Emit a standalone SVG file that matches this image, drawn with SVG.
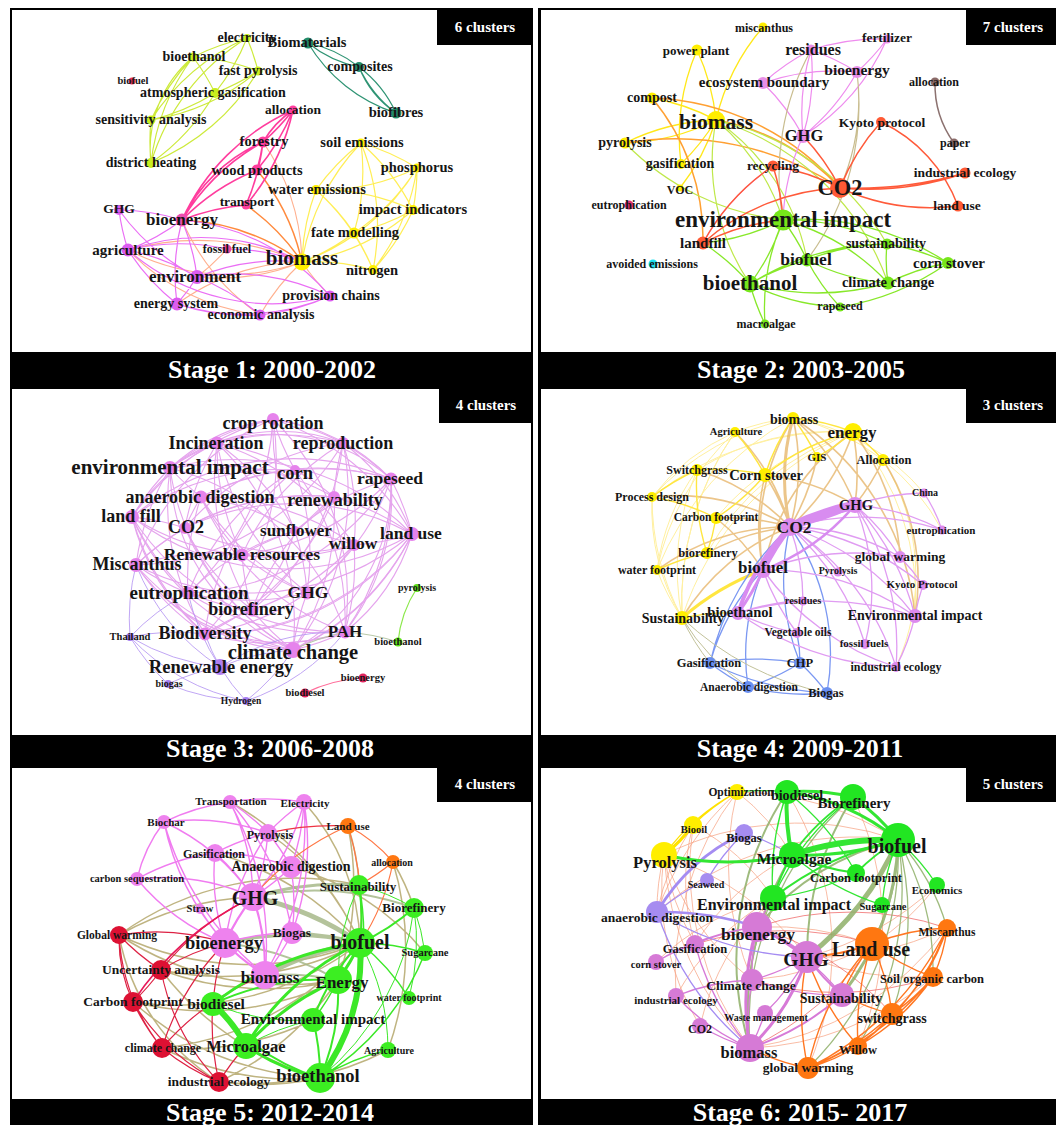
<svg xmlns="http://www.w3.org/2000/svg" width="1056" height="1125" viewBox="0 0 1056 1125">
<style>
text{font-family:"Liberation Serif","Times New Roman",serif;font-weight:bold;fill:#151515;text-anchor:middle}
.ttl{fill:#fff;font-size:26px}
.cl{fill:#fff;font-size:15px}
.e{fill:none}
.lime{fill:#c9ee1e}.teal{fill:#228b6a}.hpk{fill:#ff3d9e}.yel{fill:#fff000}.mag{fill:#dc5cf0}.red{fill:#e8305a}
.y2{fill:#ffee00}.pk2{fill:#e88ee8}.br{fill:#8a6a68}.or2{fill:#ff5a35}.gr2{fill:#76e61a}.cy{fill:#1fe0f0}.eu{fill:#e03070}
.pk3{fill:#e683ec}.pu3{fill:#a57cf0}.gr3{fill:#5ee01a}.rd3{fill:#e0245e}
.y4{fill:#ffee00}.pk4{fill:#dd8aee}.bl4{fill:#6a8ff0}
.pk5{fill:#ee82ee}.or5{fill:#ff7711}.gr5{fill:#3cee22}.rd5{fill:#dd1133}
.y6{fill:#ffee00}.gr6{fill:#22e622}.lv6{fill:#a68cf0}.pk6{fill:#d67ad6}.or6{fill:#ff7711}
</style>
<rect width="1056" height="1125" fill="#fff"/>
<g id="frames">
<rect x="10" y="8" width="523" height="378" fill="#000"/><rect x="12" y="10" width="519" height="342" fill="#fff"/>
<rect x="538" y="8" width="518" height="378" fill="#000"/><rect x="541" y="10" width="515" height="342" fill="#fff"/>
<rect x="10" y="386" width="523" height="380" fill="#000"/><rect x="12" y="389" width="519" height="346" fill="#fff"/>
<rect x="538" y="386" width="518" height="380" fill="#000"/><rect x="541" y="389" width="515" height="346" fill="#fff"/>
<rect x="10" y="765" width="523" height="360" fill="#000"/><rect x="12" y="768" width="519" height="331" fill="#fff"/>
<rect x="538" y="765" width="518" height="360" fill="#000"/><rect x="541" y="768" width="515" height="331" fill="#fff"/>
</g>

<g id="connectors">
<!-- Stage 1 -->
<g class="e" stroke="#cdea3c" stroke-width="1.2">
<path d="M193 57A220 220 0 0 1 247 38M247 38A220 220 0 0 1 258 71M247 38A220 220 0 0 1 215 93M151 120A220 220 0 0 1 247 38M151 163A220 220 0 0 1 247 38M193 57A220 220 0 0 1 258 71M193 57A220 220 0 0 1 215 93M151 120A220 220 0 0 1 193 57M151 163A220 220 0 0 1 193 57M258 71A220 220 0 0 1 215 93M258 71A220 220 0 0 1 151 120M258 71A220 220 0 0 1 151 163M215 93A220 220 0 0 1 151 120M215 93A220 220 0 0 1 151 163M151 163A220 220 0 0 1 151 120M151 163A120 120 0 0 1 193 57"/>
</g>
<g class="e" stroke="#2f9474" stroke-width="1.2">
<path d="M308 43A120 120 0 0 1 359 67M359 67A120 120 0 0 1 308 43M396 113A160 160 0 0 1 308 43M359 67A120 120 0 0 1 396 113M396 113A120 120 0 0 1 359 67M396 113A100 100 0 0 1 359 67"/>
</g>
<g class="e" stroke="#ffb08f" stroke-width="1.1">
<path d="M302 262A220 220 0 0 1 197 277M177 304A220 220 0 0 1 302 262M260 315A220 220 0 0 1 302 262M227 249A220 220 0 0 1 197 277M330 296A220 220 0 0 1 302 262M263 142A220 220 0 0 1 302 262M182 220A220 220 0 0 0 260 315M128 250A220 220 0 0 0 260 315M302 262A220 220 0 0 1 128 250M128 250A260 260 0 0 1 302 262"/>
</g>
<g class="e" stroke="#ff8a3d" stroke-width="1.5">
<path d="M182 220A220 220 0 0 1 302 262M246 205A220 220 0 0 1 302 262M257 170A220 220 0 0 1 302 262"/>
</g>
<g class="e" stroke="#ffee55" stroke-width="1.2">
<path d="M361 143A220 220 0 0 1 417 168M316 190A220 220 0 0 1 361 143M361 143A220 220 0 0 1 413 210M361 143A220 220 0 0 1 354 233M302 262A220 220 0 0 1 361 143M361 143A220 220 0 0 1 373 270M417 168A220 220 0 0 1 316 190M417 168A220 220 0 0 1 413 210M417 168A220 220 0 0 1 354 233M417 168A220 220 0 0 1 373 270M417 168A220 220 0 0 1 302 262M316 190A220 220 0 0 1 413 210M316 190A220 220 0 0 1 354 233M302 262A220 220 0 0 1 316 190M316 190A220 220 0 0 1 373 270M413 210A220 220 0 0 1 354 233M413 210A220 220 0 0 1 373 270M413 210A220 220 0 0 1 302 262M354 233A220 220 0 0 1 302 262M354 233A220 220 0 0 1 373 270M302 262A220 220 0 0 1 373 270"/>
</g>
<g class="e" stroke="#ea6ff5" stroke-width="1.2">
<path d="M119 210A220 220 0 0 1 182 220M128 250A220 220 0 0 1 119 210M119 210A220 220 0 0 0 197 277M182 220A220 220 0 0 1 128 250M182 220A220 220 0 0 1 197 277M177 304A220 220 0 0 1 182 220M128 250A220 220 0 0 1 197 277M128 250A220 220 0 0 0 177 304M128 250A220 220 0 0 1 227 249M197 277A220 220 0 0 1 177 304M197 277A220 220 0 0 1 260 315M177 304A220 220 0 0 0 260 315M197 277A220 220 0 0 1 330 296M182 220A220 220 0 0 1 330 296M260 315A220 220 0 0 0 330 296M128 250A220 220 0 0 1 302 262M197 277A220 220 0 0 1 302 262M227 249A220 220 0 0 1 302 262M177 304A220 220 0 0 0 330 296M128 250A220 220 0 0 0 330 296"/>
</g>
<g class="e" stroke="#ff3d9e" stroke-width="1.6">
<path d="M293 110A220 220 0 0 1 263 142M263 142A100 100 0 0 1 293 110M293 110A220 220 0 0 1 257 170M182 220A220 220 0 0 1 293 110M263 142A220 220 0 0 1 257 170M182 220A220 220 0 0 1 263 142M182 220A160 160 0 0 1 263 142M182 220A220 220 0 0 1 257 170M182 220A220 220 0 0 1 246 205M263 142A220 220 0 0 1 246 205M293 110A220 220 0 0 1 246 205"/>
</g>

<!-- Stage 2 -->
<g class="e" stroke="#ffe81a" stroke-width="1.3">
<path d="M716 120A220 220 0 0 1 763 27M697 50A220 220 0 0 1 716 120M681 164A220 220 0 0 1 697 50M652 98A220 220 0 0 1 716 120M625 143A220 220 0 0 1 716 120M716 120A220 220 0 0 1 625 143M716 120A220 220 0 0 1 681 164M680 188A220 220 0 0 0 716 120"/>
</g>
<g class="e" stroke="#ffa033" stroke-width="1.5">
<path d="M652 98A260 260 0 0 1 840 188M652 98A220 220 0 0 1 703 243M625 143A300 300 0 0 1 840 188M716 120A220 220 0 0 1 840 188"/>
</g>
<g class="e" stroke="#bfe84a" stroke-width="1.2">
<path d="M716 120A220 220 0 0 1 783 220M716 120A220 220 0 0 0 750 284M716 120A220 220 0 0 1 807 260M625 143A260 260 0 0 0 783 220M716 120A260 260 0 0 1 888 283M716 120A260 260 0 0 1 887 244"/>
</g>
<g class="e" stroke="#ee8cee" stroke-width="1.2">
<path d="M811 50A220 220 0 0 1 803 136M811 50A220 220 0 0 1 857 72M811 50A220 220 0 0 1 887 39M887 39A220 220 0 0 1 857 72M887 39A220 220 0 0 1 803 136M763 83A220 220 0 0 1 803 136M763 83A220 220 0 0 1 857 72M857 72A220 220 0 0 1 803 136M763 83A220 220 0 0 1 811 50M803 136A220 220 0 0 1 811 50M803 136A220 220 0 0 0 783 220M703 243A220 220 0 0 1 773 166"/>
</g>
<g class="e" stroke="#c9bd8f" stroke-width="1.2">
<path d="M783 220A260 260 0 0 1 811 50M857 72A220 220 0 0 1 840 188M857 72A260 260 0 0 1 807 260"/>
</g>
<g class="e" stroke="#ff5a3a" stroke-width="1.5">
<path d="M840 188A220 220 0 0 1 881 122M840 188A300 300 0 0 0 965 173M840 188A400 400 0 0 0 965 173M840 188A220 220 0 0 0 958 206M881 122A150 150 0 0 1 958 206M773 166A220 220 0 0 1 840 188M703 243A220 220 0 0 1 840 188M773 166A220 220 0 0 0 703 243M773 166A220 220 0 0 1 783 220M703 243A220 220 0 0 1 783 220M803 136A220 220 0 0 1 840 188"/>
</g>
<g class="e" stroke="#8c7270" stroke-width="1.5"><path d="M935 82A100 100 0 0 0 954 143"/></g>
<g class="e" stroke="#88e82a" stroke-width="1.3">
<path d="M783 220A220 220 0 0 1 750 284M783 220A220 220 0 0 1 807 260M783 220A220 220 0 0 1 887 244M783 220A220 220 0 0 1 888 283M783 220A260 260 0 0 1 948 263M750 284A220 220 0 0 1 807 260M750 284A260 260 0 0 0 888 283M750 284A260 260 0 0 1 887 244M750 284A220 220 0 0 0 840 307M750 284A220 220 0 0 0 765 324M807 260A220 220 0 0 0 888 283M807 260A220 220 0 0 1 887 244M888 283A220 220 0 0 1 948 263M887 244A220 220 0 0 1 948 263M888 283A150 150 0 0 1 887 244M840 307A260 260 0 0 0 948 263M807 260A220 220 0 0 0 840 307M703 243A220 220 0 0 1 750 284M703 243A220 220 0 0 0 783 220M783 220A220 220 0 0 0 765 324"/>
</g>

<!-- Stage 3 -->
<g class="e" stroke="#e39bec" stroke-width="1.1" opacity="0.9">
<path d="M273 419A250 250 0 0 1 343 443M343 443A250 250 0 0 1 391 479M391 479A250 250 0 0 1 412 534M412 534A250 250 0 0 1 354 545M354 545A250 250 0 0 1 345 632M345 632A250 250 0 0 1 293 650M293 650A250 250 0 0 1 307 593M307 593A250 250 0 0 1 205 634M205 634A250 250 0 0 1 252 610M252 610A250 250 0 0 1 188 593M188 593A250 250 0 0 1 136 565M136 565A250 250 0 0 1 242 555M242 555A250 250 0 0 1 132 517M132 517A250 250 0 0 1 185 528M185 528A250 250 0 0 1 201 497M201 497A250 250 0 0 1 170 468M170 468A250 250 0 0 1 217 443M217 443A250 250 0 0 1 295 470M295 470A250 250 0 0 1 334 497M334 497A250 250 0 0 1 295 531M295 531A250 250 0 0 1 273 419"/>
<path d="M273 419A250 250 0 0 1 412 534M343 443A250 250 0 0 1 354 545M391 479A250 250 0 0 1 345 632M412 534A250 250 0 0 1 293 650M354 545A250 250 0 0 1 307 593M345 632A250 250 0 0 1 205 634M293 650A250 250 0 0 1 252 610M307 593A250 250 0 0 1 188 593M205 634A250 250 0 0 1 136 565M252 610A250 250 0 0 1 242 555M188 593A250 250 0 0 1 132 517M136 565A250 250 0 0 1 185 528M242 555A250 250 0 0 1 201 497M132 517A250 250 0 0 1 170 468M185 528A250 250 0 0 1 217 443M201 497A250 250 0 0 1 295 470M170 468A250 250 0 0 1 334 497M217 443A250 250 0 0 1 295 531M295 470A250 250 0 0 1 273 419M334 497A250 250 0 0 1 343 443M295 531A250 250 0 0 1 391 479"/>
<path d="M273 419A250 250 0 0 1 345 632M343 443A250 250 0 0 1 293 650M391 479A250 250 0 0 1 307 593M412 534A250 250 0 0 1 205 634M354 545A250 250 0 0 1 252 610M345 632A250 250 0 0 1 188 593M293 650A250 250 0 0 1 136 565M307 593A250 250 0 0 1 242 555M205 634A250 250 0 0 1 132 517M252 610A250 250 0 0 1 185 528M188 593A250 250 0 0 1 201 497M136 565A250 250 0 0 1 170 468M242 555A250 250 0 0 1 217 443M132 517A250 250 0 0 1 295 470M185 528A250 250 0 0 1 334 497M201 497A250 250 0 0 1 295 531M170 468A250 250 0 0 1 273 419M217 443A250 250 0 0 1 343 443M295 470A250 250 0 0 1 391 479M334 497A250 250 0 0 1 412 534M295 531A250 250 0 0 1 354 545"/>
<path d="M273 419A250 250 0 0 1 205 634M343 443A250 250 0 0 1 252 610M391 479A250 250 0 0 1 188 593M412 534A250 250 0 0 1 136 565M354 545A250 250 0 0 1 242 555M345 632A250 250 0 0 1 132 517M293 650A250 250 0 0 1 185 528M307 593A250 250 0 0 1 201 497M205 634A250 250 0 0 1 170 468M252 610A250 250 0 0 1 217 443M188 593A250 250 0 0 1 295 470M136 565A250 250 0 0 1 334 497M242 555A250 250 0 0 1 295 531M132 517A250 250 0 0 1 273 419M185 528A250 250 0 0 1 343 443M201 497A250 250 0 0 1 391 479M170 468A250 250 0 0 1 412 534M217 443A250 250 0 0 1 354 545M295 470A250 250 0 0 1 345 632M334 497A250 250 0 0 1 293 650M295 531A250 250 0 0 1 307 593"/>
<path d="M273 419A250 250 0 0 1 188 593M343 443A250 250 0 0 1 136 565M391 479A250 250 0 0 1 242 555M412 534A250 250 0 0 1 132 517M354 545A250 250 0 0 1 185 528M345 632A250 250 0 0 1 201 497M293 650A250 250 0 0 1 170 468M307 593A250 250 0 0 1 217 443M205 634A250 250 0 0 1 295 470M252 610A250 250 0 0 1 334 497M188 593A250 250 0 0 1 295 531M136 565A250 250 0 0 1 273 419M242 555A250 250 0 0 1 343 443M132 517A250 250 0 0 1 391 479M185 528A250 250 0 0 1 412 534M201 497A250 250 0 0 1 354 545M170 468A250 250 0 0 1 345 632M217 443A250 250 0 0 1 293 650M295 470A250 250 0 0 1 307 593M334 497A250 250 0 0 1 205 634M295 531A250 250 0 0 1 252 610"/>
<path d="M170 468A200 200 0 0 0 293 650M136 565A200 200 0 0 0 293 650M412 534A200 200 0 0 1 345 632M391 479A220 220 0 0 1 345 632M412 534A240 240 0 0 1 293 650M273 419A200 200 0 0 1 391 479M170 468A200 200 0 0 1 273 419M132 517A200 200 0 0 1 217 443M343 443A200 200 0 0 1 412 534M132 517A230 230 0 0 0 293 650M412 534A260 260 0 0 1 205 634M136 565A180 180 0 0 0 345 632M170 468A180 180 0 0 1 343 443M217 443A180 180 0 0 1 391 479M132 517A220 220 0 0 0 205 634M391 479A190 190 0 0 1 293 650"/>
</g>
<g class="e" stroke="#b596f2" stroke-width="1" opacity="0.85">
<path d="M130 637A220 220 0 0 0 220 667M130 637A220 220 0 0 1 205 634M130 637A220 220 0 0 0 246 701M130 637A220 220 0 0 1 136 565M168 684A220 220 0 0 1 220 667M168 684A220 220 0 0 0 246 701M246 701A220 220 0 0 1 220 667M246 701A220 220 0 0 0 293 650M220 667A220 220 0 0 1 293 650M220 667A220 220 0 0 1 205 634M220 667A220 220 0 0 1 345 632M130 637A220 220 0 0 1 188 593M220 667A220 220 0 0 1 188 593M246 701A220 220 0 0 0 345 632M220 667A220 220 0 0 1 136 565M168 684A220 220 0 0 1 130 637"/>
</g>
<g class="e" stroke="#8be84a" stroke-width="1.2"><path d="M398 642A120 120 0 0 1 417 588"/></g>
<g class="e" stroke="#b9c9a9" stroke-width="1.2"><path d="M345 632A220 220 0 0 1 398 642M293 650A220 220 0 0 1 345 632"/></g>
<g class="e" stroke="#ff6d9a" stroke-width="1.2"><path d="M305 693A150 150 0 0 1 363 678"/></g>

<!-- Stage 4 -->
<g class="e" stroke="#fff0a0" stroke-width="1">
<path d="M652 497A220 220 0 0 1 735 432M682 618A220 220 0 0 1 652 497M657 570A220 220 0 0 1 697 470M682 618A220 220 0 0 1 657 570M793 418A220 220 0 0 1 883 460M735 432A220 220 0 0 1 793 418M652 497A260 260 0 0 1 793 418M657 570A260 260 0 0 1 735 432M682 618A260 260 0 0 1 697 470M682 618A300 300 0 0 1 735 432M716 518A260 260 0 0 1 853 432M707 553A260 260 0 0 1 853 432M652 497A300 300 0 0 1 853 432M697 470A260 260 0 0 1 853 432M657 570A300 300 0 0 1 793 418M682 618A300 300 0 0 1 853 432M883 460A220 220 0 0 1 896 667M853 432A250 250 0 0 1 915 616M883 460A220 220 0 0 1 942 530M793 418A220 220 0 0 1 924 493M652 497A260 260 0 0 0 682 618M735 432A300 300 0 0 0 682 618"/>
</g>
<g class="e" stroke="#e5b263" stroke-width="1.6" opacity="0.75">
<path d="M793 418A220 220 0 0 0 790 527" stroke-width="3"/>
<path d="M790 527A220 220 0 0 0 793 418M765 475A220 220 0 0 1 790 527M853 432A220 220 0 0 1 790 527M853 432A220 220 0 0 1 855 505M883 460A220 220 0 0 1 855 505M793 418A220 220 0 0 1 855 505M765 475A220 220 0 0 0 763 570M697 470A220 220 0 0 1 790 527M716 518A220 220 0 0 1 790 527M707 553A220 220 0 0 1 790 527M657 570A220 220 0 0 1 790 527M652 497A220 220 0 0 1 790 527M735 432A220 220 0 0 1 790 527M817 457A220 220 0 0 1 790 527M793 418A220 220 0 0 0 763 570M853 432A220 220 0 0 0 763 570M883 460A220 220 0 0 1 915 616M853 432A220 220 0 0 1 900 557M765 475A220 220 0 0 1 855 505M793 418A260 260 0 0 1 915 616M682 618A220 220 0 0 1 790 527M716 518A220 220 0 0 1 763 570"/>
</g>
<g class="e" stroke="#ffe640" stroke-width="1.4">
<path d="M682 618A260 260 0 0 1 763 570" stroke-width="3"/>
<path d="M682 618A220 220 0 0 1 738 613M793 418A220 220 0 0 0 765 475M793 418A220 220 0 0 1 853 432M853 432A220 220 0 0 1 817 457M853 432A220 220 0 0 1 883 460M697 470A220 220 0 0 1 765 475M652 497A220 220 0 0 1 697 470M652 497A220 220 0 0 1 716 518M716 518A220 220 0 0 1 707 553M657 570A220 220 0 0 1 707 553M697 470A220 220 0 0 0 707 553M735 432A220 220 0 0 1 765 475M793 418A220 220 0 0 1 817 457M765 475A220 220 0 0 1 716 518M765 475A220 220 0 0 1 853 432"/>
</g>
<g class="e" stroke="#7b98f2" stroke-width="1.3">
<path d="M710 663A260 260 0 0 1 800 663M710 663A220 220 0 0 0 748 687M748 687A220 220 0 0 0 827 693M800 663A220 220 0 0 1 827 693M790 527A220 220 0 0 1 827 693M790 527A260 260 0 0 0 710 663M763 570A220 220 0 0 0 710 663M800 663A220 220 0 0 1 790 527M800 663A220 220 0 0 1 748 687M710 663A300 300 0 0 0 827 693M748 687A220 220 0 0 1 763 570M797 633A150 150 0 0 1 800 663"/>
</g>
<g class="e" stroke="#c2c29a" stroke-width="1"><path d="M682 618A220 220 0 0 0 710 663M682 618A220 220 0 0 0 748 687M682 618A300 300 0 0 0 827 693"/></g>
<g class="e" stroke="#e09cf2" stroke-width="1.3">
<path d="M790 527A220 220 0 0 1 900 557M855 505A220 220 0 0 1 900 557M790 527A260 260 0 0 1 915 616M763 570A260 260 0 0 1 915 616M855 505A220 220 0 0 1 942 530M855 505A220 220 0 0 1 924 493M790 527A260 260 0 0 1 923 585M790 527A260 260 0 0 1 896 667M763 570A260 260 0 0 0 896 667M855 505A220 220 0 0 1 865 644M790 527A220 220 0 0 1 803 601M738 613A220 220 0 0 1 803 601M790 527A220 220 0 0 1 838 572M900 557A220 220 0 0 1 923 585M915 616A220 220 0 0 1 896 667M763 570A260 260 0 0 1 900 557M855 505A260 260 0 0 1 915 616M790 527A260 260 0 0 1 942 530M738 613A300 300 0 0 1 915 616M924 493A150 150 0 0 1 942 530M915 616A220 220 0 0 1 923 585M790 527A260 260 0 0 1 865 644M738 613A220 220 0 0 0 797 633M763 570A220 220 0 0 0 797 633M803 601A220 220 0 0 1 797 633M738 613A300 300 0 0 0 896 667M855 505A260 260 0 0 1 896 667"/>
</g>
<g class="e" stroke="#d88cf0">
<path d="M790 527A300 300 0 0 1 855 505" stroke-width="9"/>
<path d="M855 505A300 300 0 0 1 790 527" stroke-width="4"/>
<path d="M790 527A200 200 0 0 0 763 570" stroke-width="6"/>
<path d="M790 527A220 220 0 0 0 738 613" stroke-width="4"/>
<path d="M763 570A220 220 0 0 1 738 613" stroke-width="3"/>
<path d="M855 505A220 220 0 0 1 763 570" stroke-width="2.5"/>
</g>

<!-- Stage 5 -->
<g class="e" stroke="#9c8c3e" stroke-width="1.5" opacity="0.65">
<path d="M119 935A300 300 0 0 0 360 943M161 970A300 300 0 0 0 360 943M133 1002A300 300 0 0 0 360 943M162 1048A300 300 0 0 0 360 943M219 1082A300 300 0 0 0 360 943M161 970A300 300 0 0 0 338 980M162 1048A300 300 0 0 0 313 1020M219 1082A300 300 0 0 0 320 1078M119 935A300 300 0 0 1 359 885M133 1002A300 300 0 0 0 338 980M119 935A300 300 0 0 1 253 897M161 970A300 300 0 0 0 320 1078M162 1048A300 300 0 0 0 320 1078M133 1002A300 300 0 0 0 320 1078M119 935A300 300 0 0 0 338 980M219 1082A300 300 0 0 0 338 980M219 1082A300 300 0 0 0 388 1050M119 935A220 220 0 0 0 219 1082M230 802A300 300 0 0 1 360 943M304 802A220 220 0 0 1 360 943M393 862A220 220 0 0 1 414 908M348 826A300 300 0 0 1 338 980M291 867A260 260 0 0 1 425 953M268 833A260 260 0 0 1 360 943M215 853A300 300 0 0 1 360 943M393 862A300 300 0 0 1 388 1050M348 826A220 220 0 0 1 359 885"/>
</g>
<g class="e" stroke="#a7b98a" opacity="0.85">
<path d="M265 975A300 300 0 0 1 360 943" stroke-width="5"/>
<path d="M253 897A300 300 0 0 1 360 943" stroke-width="5"/>
<path d="M225 943A300 300 0 0 1 360 943M253 897A300 300 0 0 1 359 885M292 933A300 300 0 0 1 360 943" stroke-width="3"/>
<path d="M253 897A300 300 0 0 1 414 908M225 943A300 300 0 0 1 338 980M265 975A300 300 0 0 1 338 980" stroke-width="2"/>
</g>
<g class="e" stroke="#f07cf0" stroke-width="1.4">
<path d="M253 897A220 220 0 0 0 225 943M253 897A220 220 0 0 1 265 975M225 943A220 220 0 0 0 265 975" stroke-width="2.2"/>
<path d="M268 833A220 220 0 0 1 253 897M215 853A220 220 0 0 1 253 897M291 867A220 220 0 0 1 253 897M230 802A220 220 0 0 1 253 897M304 802A220 220 0 0 1 253 897M164 822A220 220 0 0 1 268 833M164 822A150 150 0 0 0 137 879M164 822A220 220 0 0 1 253 897M230 802A220 220 0 0 1 304 802M215 853A220 220 0 0 1 268 833M137 879A220 220 0 0 1 253 897M137 879A220 220 0 0 0 225 943M200 909A220 220 0 0 0 225 943M225 943A220 220 0 0 1 292 933M292 933A220 220 0 0 1 265 975M291 867A220 220 0 0 1 292 933M304 802A220 220 0 0 1 291 867M230 802A220 220 0 0 1 268 833M304 802A220 220 0 0 0 268 833M164 822A220 220 0 0 1 230 802M215 853A220 220 0 0 1 291 867M268 833A220 220 0 0 1 291 867M215 853A220 220 0 0 0 225 943M230 802A260 260 0 0 1 292 933M304 802A260 260 0 0 1 292 933M164 822A260 260 0 0 0 225 943M137 879A220 220 0 0 1 215 853M268 833A260 260 0 0 0 225 943M230 802A300 300 0 0 1 265 975M164 822A300 300 0 0 0 265 975M304 802A300 300 0 0 1 265 975"/>
</g>
<g class="e" stroke="#dd2244" stroke-width="1.2">
<path d="M119 935A220 220 0 0 0 161 970M119 935A150 150 0 0 0 133 1002M119 935A200 200 0 0 0 162 1048M161 970A220 220 0 0 1 133 1002M133 1002A220 220 0 0 0 162 1048M162 1048A220 220 0 0 0 219 1082M133 1002A220 220 0 0 0 219 1082M161 970A220 220 0 0 0 219 1082M119 935A220 220 0 0 1 225 943M161 970A260 260 0 0 1 253 897M162 1048A260 260 0 0 1 265 975M219 1082A220 220 0 0 1 246 1046M161 970A220 220 0 0 1 225 943M162 1048A260 260 0 0 1 225 943M219 1082A260 260 0 0 1 225 943"/>
<path d="M133 1002A300 300 0 0 1 253 897" stroke="#e8185a" stroke-width="1.6"/>
</g>
<g class="e" stroke="#ff7744" stroke-width="1.2">
<path d="M348 826A150 150 0 0 1 393 862M348 826A300 300 0 0 1 360 943M393 862A220 220 0 0 1 359 885M348 826A260 260 0 0 0 253 897M393 862A220 220 0 0 1 360 943"/>
<path d="M268 833A300 300 0 0 1 348 826" stroke="#ee3344"/>
</g>
<g class="e" stroke="#3ce828">
<path d="M360 943A200 200 0 0 1 320 1078M213 1004A150 150 0 0 1 246 1046" stroke-width="6"/>
<path d="M360 943A220 220 0 0 1 338 980M360 943A260 260 0 0 0 246 1046M360 943A300 300 0 0 0 213 1004M246 1046A220 220 0 0 0 320 1078M246 1046A260 260 0 0 1 338 980" stroke-width="3"/>
<path d="M338 980A220 220 0 0 1 320 1078M313 1020A220 220 0 0 1 320 1078M313 1020A220 220 0 0 1 360 943M359 885A220 220 0 0 1 360 943M414 908A220 220 0 0 1 360 943M213 1004A260 260 0 0 1 338 980M213 1004A220 220 0 0 0 320 1078" stroke-width="2"/>
<path d="M360 943A220 220 0 0 1 425 953M360 943A220 220 0 0 1 409 998M320 1078A220 220 0 0 1 388 1050M320 1078A260 260 0 0 0 425 953M338 980A220 220 0 0 1 313 1020M359 885A260 260 0 0 1 320 1078" stroke-width="1.5"/>
<path d="M360 943A220 220 0 0 1 388 1050M359 885A220 220 0 0 1 414 908M414 908A220 220 0 0 1 425 953M213 1004A220 220 0 0 0 313 1020M246 1046A220 220 0 0 1 313 1020M359 885A220 220 0 0 0 338 980M414 908A260 260 0 0 1 320 1078M414 908A220 220 0 0 1 409 998" stroke-width="1"/>
</g>

<!-- Stage 6 -->
<g class="e" stroke="#f7a07f" stroke-width="1" opacity="0.7">
<path d="M664 855A300 300 0 0 1 898 840M693 825A220 220 0 0 1 773 898M737 792A300 300 0 0 1 898 840M737 792A300 300 0 0 0 752 980M657 912A300 300 0 0 1 898 840M695 944A260 260 0 0 1 792 855M656 962A260 260 0 0 1 773 898M676 996A260 260 0 0 1 773 898M700 1026A260 260 0 0 1 773 898M664 855A300 300 0 0 1 807 957M664 855A260 260 0 0 0 752 980M693 825A220 220 0 0 0 695 944M737 792A220 220 0 0 1 792 855M872 944A300 300 0 0 0 757 927M872 944A300 300 0 0 1 752 980M947 928A300 300 0 0 1 807 957M933 977A300 300 0 0 1 807 957M937 885A300 300 0 0 1 807 957M937 885A220 220 0 0 1 872 944M664 855A220 220 0 0 0 657 912M693 825A260 260 0 0 0 657 912M737 792A300 300 0 0 0 657 912M664 855A260 260 0 0 0 695 944M737 792A300 300 0 0 0 676 996M664 855A300 300 0 0 0 750 1048M693 825A300 300 0 0 0 750 1048M664 855A260 260 0 0 0 700 1026M947 928A300 300 0 0 1 750 1048M933 977A300 300 0 0 1 750 1048M787 792A300 300 0 0 1 808 1068M853 797A300 300 0 0 1 858 1046"/>
</g>
<g class="e" stroke="#ee5a5a" stroke-width="1" opacity="0.7">
<path d="M872 944A300 300 0 0 1 750 1048M947 928A300 300 0 0 0 757 927M933 977A300 300 0 0 1 752 980M872 944A300 300 0 0 0 695 944M892 1014A300 300 0 0 0 757 927"/>
</g>
<g class="e" stroke="#8fb068" opacity="0.85">
<path d="M898 840A300 300 0 0 1 807 957" stroke-width="5"/>
<path d="M898 840A260 260 0 0 1 842 995" stroke-width="3"/>
<path d="M898 840A220 220 0 0 1 872 944M792 855A300 300 0 0 0 750 1048M787 792A300 300 0 0 0 750 1048M853 797A300 300 0 0 0 807 957M898 840A260 260 0 0 0 757 927" stroke-width="2"/>
<path d="M773 898A260 260 0 0 0 750 1048M898 840A300 300 0 0 1 892 1014M898 840A300 300 0 0 1 858 1046M898 840A300 300 0 0 1 808 1068M898 840A220 220 0 0 1 947 928M898 840A260 260 0 0 1 933 977M853 797A300 300 0 0 0 750 1048" stroke-width="1.3"/>
</g>
<g class="e" stroke="#d77ad7">
<path d="M757 927A220 220 0 0 1 807 957M807 957A220 220 0 0 1 750 1048M757 927A260 260 0 0 0 750 1048" stroke-width="3"/>
<path d="M807 957A220 220 0 0 0 842 995M842 995A260 260 0 0 1 750 1048" stroke-width="2"/>
<path d="M807 957A220 220 0 0 1 752 980M757 927A220 220 0 0 0 695 944M752 980A220 220 0 0 0 750 1048M700 1026A220 220 0 0 0 750 1048M676 996A220 220 0 0 0 750 1048M765 1013A220 220 0 0 1 750 1048M656 962A260 260 0 0 1 757 927M695 944A260 260 0 0 0 750 1048M757 927A220 220 0 0 0 752 980M807 957A220 220 0 0 1 765 1013M757 927A220 220 0 0 1 773 898M656 962A220 220 0 0 1 695 944M676 996A220 220 0 0 1 752 980M842 995A260 260 0 0 0 757 927M752 980A260 260 0 0 0 842 995" stroke-width="1.3"/>
</g>
<g class="e" stroke="#a58cf2">
<path d="M657 912A200 200 0 0 1 744 833" stroke-width="3"/>
<path d="M657 912A300 300 0 0 1 757 927" stroke-width="2.5"/>
<path d="M744 833A220 220 0 0 0 707 880M657 912A300 300 0 0 0 807 957M657 912A220 220 0 0 1 707 880M744 833A220 220 0 0 1 792 855M657 912A300 300 0 0 0 750 1048" stroke-width="1.3"/>
</g>
<g class="e" stroke="#ffe200">
<path d="M664 855A150 150 0 0 0 693 825" stroke-width="3"/>
<path d="M693 825A220 220 0 0 1 737 792M664 855A220 220 0 0 1 737 792" stroke-width="1.3"/>
</g>
<g class="e" stroke="#ff7722" stroke-width="1.4">
<path d="M872 944A220 220 0 0 1 807 957" stroke-width="2.2"/>
<path d="M872 944A220 220 0 0 1 947 928M872 944A220 220 0 0 0 933 977M872 944A220 220 0 0 1 892 1014M872 944A260 260 0 0 0 858 1046M872 944A260 260 0 0 0 808 1068M947 928A200 200 0 0 1 892 1014M933 977A200 200 0 0 1 892 1014M858 1046A200 200 0 0 0 892 1014M933 977A220 220 0 0 1 858 1046M808 1068A200 200 0 0 0 858 1046M808 1068A260 260 0 0 0 892 1014M947 928A150 150 0 0 1 933 977M808 1068A200 200 0 0 1 750 1048M947 928A260 260 0 0 1 858 1046M892 1014A220 220 0 0 1 842 995M872 944A220 220 0 0 0 842 995M808 1068A300 300 0 0 0 933 977M808 1068A260 260 0 0 1 807 957M858 1046A260 260 0 0 1 807 957M947 928A300 300 0 0 1 808 1068"/>
</g>
<g class="e" stroke="#33e633">
<path d="M792 855A300 300 0 0 1 898 840" stroke-width="6"/>
<path d="M787 792A220 220 0 0 0 792 855" stroke-width="4"/>
<path d="M898 840A300 300 0 0 1 792 855M787 792A220 220 0 0 1 898 840M787 792A220 220 0 0 1 853 797M853 797A220 220 0 0 1 898 840M664 855A300 300 0 0 0 792 855" stroke-width="3"/>
<path d="M792 855A220 220 0 0 0 856 873M898 840A300 300 0 0 0 773 898M898 840A220 220 0 0 0 856 873M792 855A220 220 0 0 0 773 898M853 797A220 220 0 0 0 792 855" stroke-width="2"/>
<path d="M898 840A220 220 0 0 1 937 885M787 792A260 260 0 0 0 773 898M773 898A260 260 0 0 0 856 873M898 840A220 220 0 0 0 882 905M787 792A260 260 0 0 1 856 873M853 797A260 260 0 0 0 773 898M737 792A220 220 0 0 1 787 792M792 855A260 260 0 0 0 882 905" stroke-width="1.3"/>
</g>
</g>

<!-- Stage 1 nodes -->
<g id="stage1-nodes">
<g id="s1-electricity"><circle class="lime" cx="247" cy="38" r="4"/><text x="247" y="42" font-size="14">electricity</text></g>
<g id="s1-bioethanol"><circle class="lime" cx="193" cy="57" r="4.5"/><text x="194" y="61" font-size="14">bioethanol</text></g>
<g id="s1-fast-pyrolysis"><circle class="lime" cx="258" cy="71" r="4.5"/><text x="258" y="75" font-size="14">fast pyrolysis</text></g>
<g id="s1-biofuel"><circle class="red" cx="132" cy="81" r="3.5"/><text x="133" y="84" font-size="10.5">biofuel</text></g>
<g id="s1-atmospheric-gasification"><circle class="lime" cx="215" cy="93" r="5"/><text x="213" y="97" font-size="14">atmospheric gasification</text></g>
<g id="s1-sensitivity-analysis"><circle class="lime" cx="151" cy="120" r="4.5"/><text x="151" y="124" font-size="14">sensitivity analysis</text></g>
<g id="s1-district-heating"><circle class="lime" cx="151" cy="163" r="5"/><text x="151" y="167" font-size="14">district heating</text></g>
<g id="s1-biomaterials"><circle class="teal" cx="308" cy="43" r="5.5"/><text x="307" y="47" font-size="14.5">Biomaterials</text></g>
<g id="s1-composites"><circle class="teal" cx="359" cy="67" r="5"/><text x="360" y="71" font-size="14">composites</text></g>
<g id="s1-biofibres"><circle class="teal" cx="396" cy="113" r="5.5"/><text x="396" y="117" font-size="14.5">biofibres</text></g>
<g id="s1-allocation"><circle class="hpk" cx="293" cy="110" r="4.5"/><text x="293" y="114" font-size="13.5">allocation</text></g>
<g id="s1-forestry"><circle class="hpk" cx="263" cy="142" r="5.5"/><text x="264" y="146" font-size="14.5">forestry</text></g>
<g id="s1-wood-products"><circle class="hpk" cx="257" cy="170" r="5.5"/><text x="257" y="175" font-size="14.5">wood products</text></g>
<g id="s1-transport"><circle class="hpk" cx="246" cy="205" r="4.5"/><text x="247" y="206" font-size="13.5">transport</text></g>
<g id="s1-water-emissions"><circle class="yel" cx="316" cy="190" r="5"/><text x="317" y="194" font-size="14.5">water emissions</text></g>
<g id="s1-soil-emissions"><circle class="yel" cx="361" cy="143" r="4.5"/><text x="362" y="147" font-size="14.5">soil emissions</text></g>
<g id="s1-phosphorus"><circle class="yel" cx="417" cy="168" r="4.5"/><text x="417" y="172" font-size="14.5">phosphorus</text></g>
<g id="s1-impact-indicators"><circle class="yel" cx="413" cy="210" r="5"/><text x="413" y="214" font-size="14.5">impact indicators</text></g>
<g id="s1-fate-modelling"><circle class="yel" cx="354" cy="233" r="5.5"/><text x="355" y="237" font-size="14.5">fate modelling</text></g>
<g id="s1-biomass"><circle class="yel" cx="302" cy="262" r="8.5"/><text x="302" y="265" font-size="21">biomass</text></g>
<g id="s1-nitrogen"><circle class="yel" cx="373" cy="270" r="5"/><text x="372" y="275" font-size="14.5">nitrogen</text></g>
<g id="s1-provision-chains"><circle class="mag" cx="330" cy="296" r="5.5"/><text x="331" y="300" font-size="14">provision chains</text></g>
<g id="s1-economic-analysis"><circle class="mag" cx="260" cy="315" r="5.5"/><text x="261" y="319" font-size="14">economic analysis</text></g>
<g id="s1-ghg"><circle class="mag" cx="119" cy="210" r="5"/><text x="119" y="213" font-size="13.5">GHG</text></g>
<g id="s1-bioenergy"><circle fill="#ec4fb0" cx="182" cy="220" r="6.5"/><text x="182" y="225" font-size="17">bioenergy</text></g>
<g id="s1-agriculture"><circle class="mag" cx="128" cy="250" r="6.5"/><text x="128" y="255" font-size="15">agriculture</text></g>
<g id="s1-fossil-fuel"><circle fill="#e9489e" cx="227" cy="249" r="4.5"/><text x="227" y="253" font-size="12">fossil fuel</text></g>
<g id="s1-environment"><circle class="mag" cx="197" cy="277" r="7"/><text x="195" y="282" font-size="17">environment</text></g>
<g id="s1-energy-system"><circle class="mag" cx="177" cy="304" r="6.5"/><text x="176" y="308" font-size="14">energy system</text></g>
</g>

<!-- Stage 2 nodes -->
<g id="stage2-nodes">
<g id="s2-miscanthus"><circle class="y2" cx="763" cy="27" r="4.5"/><text x="764" y="32" font-size="12">miscanthus</text></g>
<g id="s2-power-plant"><circle class="y2" cx="697" cy="50" r="5.5"/><text x="696" y="55" font-size="13">power plant</text></g>
<g id="s2-residues"><circle class="pk2" cx="811" cy="50" r="5.5"/><text x="813" y="55" font-size="16">residues</text></g>
<g id="s2-fertilizer"><circle class="pk2" cx="887" cy="39" r="4.5"/><text x="887" y="42" font-size="13.5">fertilizer</text></g>
<g id="s2-bioenergy"><circle class="pk2" cx="857" cy="72" r="6"/><text x="857" y="75" font-size="15.5">bioenergy</text></g>
<g id="s2-ecosystem-boundary"><circle class="pk2" cx="763" cy="83" r="6"/><text x="764" y="87" font-size="15">ecosystem boundary</text></g>
<g id="s2-allocation"><circle class="br" cx="935" cy="82" r="4.5"/><text x="934" y="86" font-size="12">allocation</text></g>
<g id="s2-compost"><circle class="y2" cx="652" cy="98" r="5.5"/><text x="652" y="102" font-size="14">compost</text></g>
<g id="s2-biomass"><circle class="y2" cx="716" cy="120" r="9"/><text x="716" y="129" font-size="21.5">biomass</text></g>
<g id="s2-ghg"><circle class="pk2" cx="803" cy="136" r="7"/><text x="804" y="141" font-size="16.5">GHG</text></g>
<g id="s2-kyoto-protocol"><circle class="or2" cx="881" cy="122" r="5"/><text x="882" y="127" font-size="13.5">Kyoto protocol</text></g>
<g id="s2-paper"><circle class="br" cx="954" cy="143" r="4.5"/><text x="955" y="147" font-size="12">paper</text></g>
<g id="s2-pyrolysis"><circle class="y2" cx="625" cy="143" r="5.5"/><text x="625" y="147" font-size="14">pyrolysis</text></g>
<g id="s2-gasification"><circle class="y2" cx="681" cy="164" r="5"/><text x="680" y="168" font-size="14">gasification</text></g>
<g id="s2-recycling"><circle class="or2" cx="773" cy="166" r="5.5"/><text x="773" y="170" font-size="13.5">recycling</text></g>
<g id="s2-co2"><circle class="or2" cx="840" cy="188" r="10"/><text x="840" y="195" font-size="22.5">CO2</text></g>
<g id="s2-industrial-ecology"><circle class="or2" cx="965" cy="173" r="5.5"/><text x="965" y="177" font-size="13.5">industrial ecology</text></g>
<g id="s2-voc"><circle class="y2" cx="680" cy="188" r="3.5"/><text x="680" y="194" font-size="12">VOC</text></g>
<g id="s2-eutrophication"><circle class="eu" cx="629" cy="205" r="4.5"/><text x="629" y="209" font-size="12">eutrophication</text></g>
<g id="s2-land-use"><circle class="or2" cx="958" cy="206" r="5.5"/><text x="957" y="210" font-size="13.5">land use</text></g>
<g id="s2-environmental-impact"><circle class="gr2" cx="783" cy="220" r="10.5"/><text x="783" y="227" font-size="23">environmental impact</text></g>
<g id="s2-landfill"><circle class="or2" cx="703" cy="243" r="6.5"/><text x="703" y="248" font-size="15">landfill</text></g>
<g id="s2-avoided-emissions"><circle class="cy" cx="653" cy="264" r="4.5"/><text x="652" y="268" font-size="12">avoided emissions</text></g>
<g id="s2-sustainability"><circle class="gr2" cx="887" cy="244" r="5.5"/><text x="886" y="248" font-size="14">sustainability</text></g>
<g id="s2-biofuel"><circle class="gr2" cx="807" cy="260" r="6.5"/><text x="806" y="265" font-size="17.5">biofuel</text></g>
<g id="s2-corn-stover"><circle class="gr2" cx="948" cy="263" r="6"/><text x="949" y="268" font-size="15">corn stover</text></g>
<g id="s2-bioethanol"><circle class="gr2" cx="750" cy="284" r="8.5"/><text x="750" y="290" font-size="21">bioethanol</text></g>
<g id="s2-climate-change"><circle class="gr2" cx="888" cy="283" r="6.5"/><text x="888" y="287" font-size="14.5">climate change</text></g>
<g id="s2-rapeseed"><circle class="gr2" cx="840" cy="307" r="4.5"/><text x="840" y="310" font-size="12">rapeseed</text></g>
<g id="s2-macroalgae"><circle class="gr2" cx="765" cy="324" r="4.5"/><text x="766" y="328" font-size="12">macroalgae</text></g>
</g>

<!-- Stage 3 nodes -->
<g id="stage3-nodes">
<g id="s3-crop-rotation"><circle class="pk3" cx="273" cy="419" r="6"/><text x="273" y="429" font-size="18">crop rotation</text></g>
<g id="s3-incineration"><circle class="pk3" cx="217" cy="443" r="6.5"/><text x="216" y="449" font-size="18">Incineration</text></g>
<g id="s3-reproduction"><circle class="pk3" cx="343" cy="443" r="6"/><text x="343" y="449" font-size="18">reproduction</text></g>
<g id="s3-environmental-impact"><circle class="pk3" cx="170" cy="468" r="7"/><text x="170" y="474" font-size="21">environmental impact</text></g>
<g id="s3-corn"><circle class="pk3" cx="295" cy="470" r="5"/><text x="295" y="479" font-size="18.5">corn</text></g>
<g id="s3-rapeseed"><circle class="pk3" cx="391" cy="479" r="6.5"/><text x="390" y="484" font-size="17.5">rapeseed</text></g>
<g id="s3-anaerobic-digestion"><circle class="pk3" cx="201" cy="497" r="6.5"/><text x="200" y="503" font-size="18">anaerobic digestion</text></g>
<g id="s3-renewability"><circle class="pk3" cx="334" cy="497" r="6"/><text x="335" y="506" font-size="18">renewability</text></g>
<g id="s3-land-fill"><circle class="pk3" cx="132" cy="517" r="7"/><text x="131" y="522" font-size="18">land fill</text></g>
<g id="s3-co2"><circle class="pk3" cx="185" cy="528" r="6"/><text x="186" y="533" font-size="18">CO2</text></g>
<g id="s3-sunflower"><circle class="pk3" cx="295" cy="531" r="5"/><text x="296" y="536" font-size="17">sunflower</text></g>
<g id="s3-land-use"><circle class="pk3" cx="412" cy="534" r="7"/><text x="411" y="539" font-size="17.5">land use</text></g>
<g id="s3-willow"><circle class="pk3" cx="354" cy="545" r="6"/><text x="353" y="549" font-size="17.5">willow</text></g>
<g id="s3-miscanthus"><circle class="pk3" cx="136" cy="565" r="7"/><text x="137" y="570" font-size="18">Miscanthus</text></g>
<g id="s3-renewable-resources"><circle class="pk3" cx="242" cy="555" r="6.5"/><text x="242" y="560" font-size="17.5">Renewable resources</text></g>
<g id="s3-eutrophication"><circle class="pk3" cx="188" cy="593" r="6.5"/><text x="189" y="599" font-size="19">eutrophication</text></g>
<g id="s3-ghg"><circle class="pk3" cx="307" cy="593" r="6.5"/><text x="308" y="598" font-size="17.5">GHG</text></g>
<g id="s3-biorefinery"><circle class="pk3" cx="252" cy="610" r="6.5"/><text x="251" y="615" font-size="18">biorefinery</text></g>
<g id="s3-biodiversity"><circle class="pk3" cx="205" cy="634" r="6.5"/><text x="205" y="639" font-size="18">Biodiversity</text></g>
<g id="s3-pah"><circle class="pk3" cx="345" cy="632" r="6.5"/><text x="345" y="637" font-size="17">PAH</text></g>
<g id="s3-climate-change"><circle class="pk3" cx="293" cy="650" r="8"/><text x="293" y="659" font-size="20.5">climate change</text></g>
<g id="s3-thailand"><circle class="pu3" cx="130" cy="637" r="4"/><text x="130" y="640" font-size="10.5">Thailand</text></g>
<g id="s3-renewable-energy"><circle fill="#b07ef0" cx="220" cy="667" r="8"/><text x="221" y="673" font-size="18.5">Renewable energy</text></g>
<g id="s3-biogas"><circle class="pu3" cx="168" cy="684" r="4"/><text x="169" y="687" font-size="10">biogas</text></g>
<g id="s3-hydrogen"><circle class="pu3" cx="246" cy="701" r="4"/><text x="241" y="704" font-size="9.5">Hydrogen</text></g>
<g id="s3-pyrolysis"><circle class="gr3" cx="417" cy="588" r="4"/><text x="417" y="591" font-size="10">pyrolysis</text></g>
<g id="s3-bioethanol"><circle class="gr3" cx="398" cy="642" r="4.5"/><text x="398" y="645" font-size="10.5">bioethanol</text></g>
<g id="s3-bioenergy"><circle class="rd3" cx="363" cy="678" r="4.5"/><text x="363" y="681" font-size="10.5">bioenergy</text></g>
<g id="s3-biodiesel"><circle class="rd3" cx="305" cy="693" r="4.5"/><text x="305" y="696" font-size="10.5">biodiesel</text></g>
</g>

<!-- Stage 4 nodes -->
<g id="stage4-nodes">
<g id="s4-biomass"><circle class="y4" cx="793" cy="418" r="6"/><text x="794" y="424" font-size="14">biomass</text></g>
<g id="s4-agriculture"><circle class="y4" cx="735" cy="432" r="5"/><text x="736" y="435" font-size="10.5">Agriculture</text></g>
<g id="s4-energy"><circle class="y4" cx="853" cy="432" r="9"/><text x="852" y="438" font-size="17">energy</text></g>
<g id="s4-gis"><circle class="y4" cx="817" cy="457" r="5"/><text x="817" y="461" font-size="11">GIS</text></g>
<g id="s4-allocation"><circle class="y4" cx="883" cy="460" r="6"/><text x="884" y="464" font-size="12.5">Allocation</text></g>
<g id="s4-switchgrass"><circle class="y4" cx="697" cy="470" r="6"/><text x="697" y="474" font-size="12">Switchgrass</text></g>
<g id="s4-corn-stover"><circle class="y4" cx="765" cy="475" r="7"/><text x="766" y="480" font-size="14.5">Corn stover</text></g>
<g id="s4-process-design"><circle class="y4" cx="652" cy="497" r="5"/><text x="652" y="501" font-size="12">Process design</text></g>
<g id="s4-carbon-footprint"><circle class="y4" cx="716" cy="518" r="6"/><text x="716" y="521" font-size="11.5">Carbon footprint</text></g>
<g id="s4-biorefinery"><circle class="y4" cx="707" cy="553" r="6"/><text x="708" y="557" font-size="12.5">biorefinery</text></g>
<g id="s4-water-footprint"><circle class="y4" cx="657" cy="570" r="5"/><text x="657" y="574" font-size="12">water footprint</text></g>
<g id="s4-sustainability"><circle class="y4" cx="682" cy="618" r="7"/><text x="683" y="623" font-size="14">Sustainability</text></g>
<g id="s4-co2"><circle class="pk4" cx="790" cy="527" r="9"/><text x="794" y="533" font-size="17.5">CO2</text></g>
<g id="s4-ghg"><circle class="pk4" cx="855" cy="505" r="8"/><text x="856" y="510" font-size="14.5">GHG</text></g>
<g id="s4-china"><circle class="pk4" cx="924" cy="493" r="4.5"/><text x="925" y="496" font-size="10">China</text></g>
<g id="s4-eutrophication"><circle class="pk4" cx="942" cy="530" r="4.5"/><text x="941" y="534" font-size="11">eutrophication</text></g>
<g id="s4-global-warming"><circle class="pk4" cx="900" cy="557" r="6"/><text x="900" y="561" font-size="13.5">global warming</text></g>
<g id="s4-biofuel"><circle class="pk4" cx="763" cy="570" r="8"/><text x="763" y="573" font-size="17">biofuel</text></g>
<g id="s4-pyrolysis"><circle class="pk4" cx="838" cy="572" r="4.5"/><text x="838" y="574" font-size="10">Pyrolysis</text></g>
<g id="s4-kyoto-protocol"><circle class="pk4" cx="923" cy="585" r="5"/><text x="922" y="588" font-size="11">Kyoto Protocol</text></g>
<g id="s4-residues"><circle class="pk4" cx="803" cy="601" r="4.5"/><text x="803" y="604" font-size="10.5">residues</text></g>
<g id="s4-bioethanol"><circle class="pk4" cx="738" cy="613" r="7"/><text x="740" y="617" font-size="14.5">bioethanol</text></g>
<g id="s4-environmental-impact"><circle class="pk4" cx="915" cy="616" r="7"/><text x="915" y="620" font-size="14">Environmental impact</text></g>
<g id="s4-vegetable-oils"><circle class="pk4" cx="797" cy="633" r="5"/><text x="798" y="636" font-size="11.5">Vegetable oils</text></g>
<g id="s4-fossil-fuels"><circle class="pk4" cx="865" cy="644" r="5"/><text x="864" y="647" font-size="11">fossil fuels</text></g>
<g id="s4-industrial-ecology"><circle class="pk4" cx="896" cy="667" r="5"/><text x="896" y="671" font-size="12">industrial ecology</text></g>
<g id="s4-gasification"><circle class="bl4" cx="710" cy="663" r="6"/><text x="709" y="667" font-size="12.5">Gasification</text></g>
<g id="s4-chp"><circle class="bl4" cx="800" cy="663" r="6"/><text x="800" y="667" font-size="12.5">CHP</text></g>
<g id="s4-anaerobic-digestion"><circle class="bl4" cx="748" cy="687" r="6"/><text x="749" y="691" font-size="11.5">Anaerobic digestion</text></g>
<g id="s4-biogas"><circle class="bl4" cx="827" cy="693" r="6"/><text x="826" y="697" font-size="12.5">Biogas</text></g>
</g>

<!-- Stage 5 nodes -->
<g id="stage5-nodes">
<g id="s5-transportation"><circle class="pk5" cx="230" cy="802" r="7"/><text x="231" y="805" font-size="11">Transportation</text></g>
<g id="s5-electricity"><circle class="pk5" cx="304" cy="802" r="8"/><text x="305" y="807" font-size="11">Electricity</text></g>
<g id="s5-biochar"><circle class="pk5" cx="164" cy="822" r="7"/><text x="166" y="826" font-size="11">Biochar</text></g>
<g id="s5-pyrolysis"><circle class="pk5" cx="268" cy="833" r="9"/><text x="270" y="839" font-size="12">Pyrolysis</text></g>
<g id="s5-land-use"><circle class="or5" cx="348" cy="826" r="8"/><text x="348" y="830" font-size="11">Land use</text></g>
<g id="s5-gasification"><circle class="pk5" cx="215" cy="853" r="9"/><text x="214" y="858" font-size="12">Gasification</text></g>
<g id="s5-allocation"><circle class="or5" cx="393" cy="862" r="7"/><text x="392" y="866" font-size="10">allocation</text></g>
<g id="s5-anaerobic-digestion"><circle class="pk5" cx="291" cy="867" r="11"/><text x="291" y="871" font-size="14">Anaerobic digestion</text></g>
<g id="s5-carbon-sequestration"><circle class="pk5" cx="137" cy="879" r="7"/><text x="137" y="882" font-size="10.5">carbon sequestration</text></g>
<g id="s5-sustainability"><circle class="gr5" cx="359" cy="885" r="10"/><text x="358" y="891" font-size="13">Sustainability</text></g>
<g id="s5-ghg"><circle class="pk5" cx="253" cy="897" r="14"/><text x="255" y="905" font-size="20">GHG</text></g>
<g id="s5-straw"><circle class="pk5" cx="200" cy="909" r="5"/><text x="200" y="912" font-size="10.5">Straw</text></g>
<g id="s5-biorefinery"><circle class="gr5" cx="414" cy="908" r="10"/><text x="414" y="912" font-size="13">Biorefinery</text></g>
<g id="s5-global-warming"><circle class="rd5" cx="119" cy="935" r="9"/><text x="117" y="939" font-size="11.5">Global warming</text></g>
<g id="s5-biogas"><circle class="pk5" cx="292" cy="933" r="11"/><text x="292" y="937" font-size="13.5">Biogas</text></g>
<g id="s5-bioenergy"><circle class="pk5" cx="225" cy="943" r="15"/><text x="224" y="949" font-size="18.5">bioenergy</text></g>
<g id="s5-biofuel"><circle class="gr5" cx="360" cy="943" r="15"/><text x="360" y="949" font-size="20">biofuel</text></g>
<g id="s5-sugarcane"><circle class="gr5" cx="425" cy="953" r="8"/><text x="425" y="956" font-size="10.5">Sugarcane</text></g>
<g id="s5-uncertainty-analysis"><circle class="rd5" cx="161" cy="970" r="10"/><text x="161" y="974" font-size="13.5">Uncertainty analysis</text></g>
<g id="s5-biomass"><circle class="pk5" cx="265" cy="975" r="14"/><text x="270" y="983" font-size="17">biomass</text></g>
<g id="s5-energy"><circle class="gr5" cx="338" cy="980" r="14"/><text x="342" y="988" font-size="17">Energy</text></g>
<g id="s5-water-footprint"><circle class="gr5" cx="409" cy="998" r="7"/><text x="409" y="1001" font-size="10">water footprint</text></g>
<g id="s5-carbon-footprint"><circle class="rd5" cx="133" cy="1002" r="10"/><text x="133" y="1006" font-size="13.5">Carbon footprint</text></g>
<g id="s5-biodiesel"><circle class="gr5" cx="213" cy="1004" r="12"/><text x="216" y="1009" font-size="15.5">biodiesel</text></g>
<g id="s5-environmental-impact"><circle class="gr5" cx="313" cy="1020" r="12"/><text x="313" y="1024" font-size="15">Environmental impact</text></g>
<g id="s5-climate-change"><circle class="rd5" cx="162" cy="1048" r="10"/><text x="163" y="1052" font-size="12">climate change</text></g>
<g id="s5-microalgae"><circle class="gr5" cx="246" cy="1046" r="13"/><text x="246" y="1052" font-size="16.5">Microalgae</text></g>
<g id="s5-agriculture"><circle class="gr5" cx="388" cy="1050" r="8"/><text x="389" y="1054" font-size="10">Agriculture</text></g>
<g id="s5-bioethanol"><circle class="gr5" cx="320" cy="1078" r="15"/><text x="318" y="1082" font-size="18.5">bioethanol</text></g>
<g id="s5-industrial-ecology"><circle class="rd5" cx="219" cy="1082" r="10"/><text x="219" y="1086" font-size="13.5">industrial ecology</text></g>
</g>

<!-- Stage 6 nodes -->
<g id="stage6-nodes">
<g id="s6-optimization"><circle class="y6" cx="737" cy="792" r="8"/><text x="741" y="796" font-size="11.5">Optimization</text></g>
<g id="s6-biodiesel"><circle class="gr6" cx="787" cy="792" r="12"/><text x="797" y="800" font-size="14">biodiesel</text></g>
<g id="s6-biorefinery"><circle class="gr6" cx="853" cy="797" r="13"/><text x="854" y="808" font-size="15">Biorefinery</text></g>
<g id="s6-biooil"><circle class="y6" cx="693" cy="825" r="9"/><text x="694" y="833" font-size="10.5">Biooil</text></g>
<g id="s6-biogas"><circle class="lv6" cx="744" cy="833" r="9"/><text x="744" y="842" font-size="12.5">Biogas</text></g>
<g id="s6-biofuel"><circle class="gr6" cx="898" cy="840" r="17"/><text x="897" y="853" font-size="20">biofuel</text></g>
<g id="s6-pyrolysis"><circle class="y6" cx="664" cy="855" r="13"/><text x="665" y="868" font-size="16.5">Pyrolysis</text></g>
<g id="s6-microalgae"><circle class="gr6" cx="792" cy="855" r="13"/><text x="794" y="864" font-size="15.5">Microalgae</text></g>
<g id="s6-carbon-footprint"><circle class="gr6" cx="856" cy="873" r="9"/><text x="856" y="882" font-size="12.5">Carbon footprint</text></g>
<g id="s6-seaweed"><circle class="lv6" cx="707" cy="880" r="7"/><text x="706" y="888" font-size="10">Seaweed</text></g>
<g id="s6-economics"><circle class="gr6" cx="937" cy="885" r="8"/><text x="937" y="894" font-size="11">Economics</text></g>
<g id="s6-environmental-impact"><circle class="gr6" cx="773" cy="898" r="13"/><text x="774" y="910" font-size="16">Environmental impact</text></g>
<g id="s6-sugarcane"><circle class="gr6" cx="882" cy="905" r="8"/><text x="883" y="910" font-size="10.5">Sugarcane</text></g>
<g id="s6-anaerobic-digestion"><circle class="lv6" cx="657" cy="912" r="11"/><text x="657" y="922" font-size="13.5">anaerobic digestion</text></g>
<g id="s6-miscanthus"><circle class="or6" cx="947" cy="928" r="9"/><text x="947" y="936" font-size="11.5">Miscanthus</text></g>
<g id="s6-bioenergy"><circle class="pk6" cx="757" cy="927" r="15"/><text x="758" y="940" font-size="17.5">bioenergy</text></g>
<g id="s6-gasification"><circle class="pk6" cx="695" cy="944" r="9"/><text x="695" y="953" font-size="12.5">Gasification</text></g>
<g id="s6-land-use"><circle class="or6" cx="872" cy="944" r="17"/><text x="871" y="956" font-size="20">Land use</text></g>
<g id="s6-ghg"><circle class="pk6" cx="807" cy="957" r="16"/><text x="806" y="966" font-size="19.5">GHG</text></g>
<g id="s6-corn-stover"><circle class="pk6" cx="656" cy="962" r="8"/><text x="656" y="968" font-size="10.5">corn stover</text></g>
<g id="s6-soil-organic-carbon"><circle class="or6" cx="933" cy="977" r="10"/><text x="932" y="983" font-size="12.5">Soil organic carbon</text></g>
<g id="s6-climate-change"><circle class="pk6" cx="752" cy="980" r="11"/><text x="751" y="990" font-size="13.5">Climate change</text></g>
<g id="s6-industrial-ecology"><circle class="pk6" cx="676" cy="996" r="8"/><text x="676" y="1004" font-size="11">industrial ecology</text></g>
<g id="s6-sustainability"><circle class="pk6" cx="842" cy="995" r="12"/><text x="841" y="1003" font-size="14">Sustainability</text></g>
<g id="s6-waste-management"><circle class="pk6" cx="765" cy="1013" r="8"/><text x="766" y="1021" font-size="10">Waste management</text></g>
<g id="s6-switchgrass"><circle class="or6" cx="892" cy="1014" r="11"/><text x="892" y="1023" font-size="14">switchgrass</text></g>
<g id="s6-co2"><circle class="pk6" cx="700" cy="1026" r="8"/><text x="700" y="1033" font-size="12">CO2</text></g>
<g id="s6-willow"><circle class="or6" cx="858" cy="1046" r="9"/><text x="858" y="1054" font-size="12.5">Willow</text></g>
<g id="s6-biomass"><circle class="pk6" cx="750" cy="1048" r="14"/><text x="749" y="1058" font-size="16.5">biomass</text></g>
<g id="s6-global-warming"><circle class="or6" cx="808" cy="1068" r="11"/><text x="808" y="1072" font-size="13.5">global warming</text></g>
</g>

<g id="labels">
<rect x="437" y="10" width="94" height="35" fill="#000"/><text class="cl" x="485" y="32">6 clusters</text>
<rect x="966" y="10" width="90" height="35" fill="#000"/><text class="cl" x="1013" y="32">7 clusters</text>
<rect x="439" y="389" width="92" height="34" fill="#000"/><text class="cl" x="486" y="410">4 clusters</text>
<rect x="966" y="389" width="90" height="34" fill="#000"/><text class="cl" x="1013" y="410">3 clusters</text>
<rect x="437" y="768" width="94" height="34" fill="#000"/><text class="cl" x="485" y="789">4 clusters</text>
<rect x="966" y="768" width="90" height="34" fill="#000"/><text class="cl" x="1013" y="789">5 clusters</text>
<text class="ttl" x="272" y="378">Stage 1: 2000-2002</text>
<text class="ttl" x="801" y="378">Stage 2: 2003-2005</text>
<text class="ttl" x="270" y="757">Stage 3: 2006-2008</text>
<text class="ttl" x="800" y="757">Stage 4: 2009-2011</text>
<text class="ttl" x="270" y="1121">Stage 5: 2012-2014</text>
<text class="ttl" x="800" y="1121">Stage 6: 2015- 2017</text>
</g>
</svg>
